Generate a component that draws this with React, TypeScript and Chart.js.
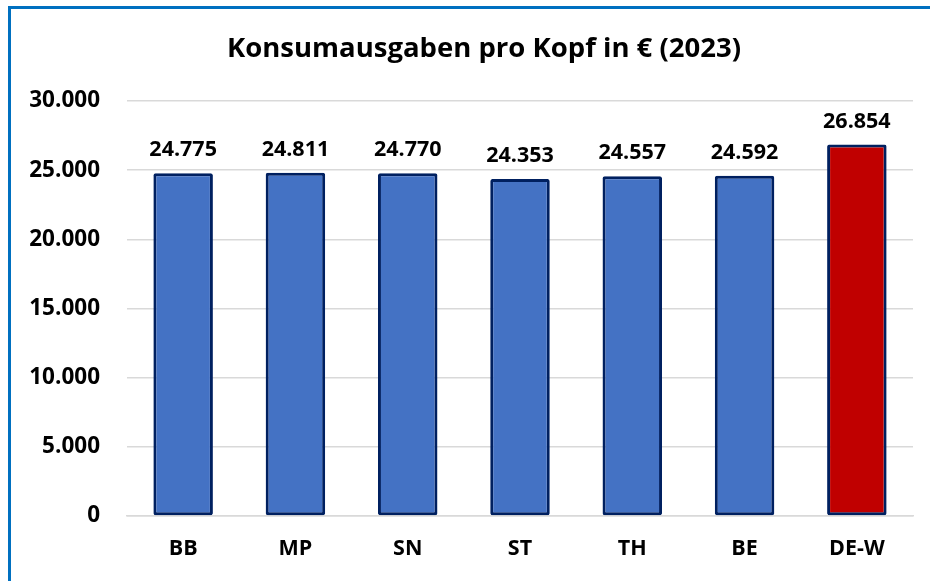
import React, { useEffect, useRef } from "react";
import { Chart, registerables } from "chart.js";

Chart.register(...registerables);

const categories = ["BB", "MP", "SN", "ST", "TH", "BE", "DE-W"];
const values = [24775, 24811, 24770, 24353, 24557, 24592, 26854];
const barColors = ["#4472C4", "#4472C4", "#4472C4", "#4472C4", "#4472C4", "#4472C4", "#C00000"];
const titleText = "Konsumausgaben pro Kopf in € (2023)";
const yMax = 30000;
const yStep = 5000;

const FONT = "'Open Sans', Lato, sans-serif";

const fmt = (v: number) => new Intl.NumberFormat("de-DE").format(v);

const dataLabelPlugin = {
  id: "dataLabels",
  afterDatasetsDraw(chart: any) {
    const ctx = chart.ctx;
    const meta = chart.getDatasetMeta(0);
    ctx.save();
    ctx.font = `bold 21.5px ${FONT}`;
    ctx.fillStyle = "#000000";
    ctx.textAlign = "center";
    ctx.textBaseline = "alphabetic";
    meta.data.forEach((bar: any, i: number) => {
      ctx.fillText(fmt(values[i]), bar.x, bar.y - 17);
    });
    ctx.restore();
  },
};

export default function App() {
  const canvasRef = useRef<HTMLCanvasElement | null>(null);

  useEffect(() => {
    if (!canvasRef.current) return;
    const chart = new Chart(canvasRef.current, {
      type: "bar",
      data: {
        labels: categories,
        datasets: [
          {
            data: values,
            backgroundColor: barColors,
            borderColor: "#002060",
            borderWidth: 3,
            borderRadius: 2,
            borderSkipped: false,
            barPercentage: 0.53,
            categoryPercentage: 1,
          },
        ],
      },
      options: {
        animation: false,
        responsive: true,
        maintainAspectRatio: false,
        layout: { padding: { top: 0, right: 0, bottom: 0, left: 0 } },
        plugins: {
          legend: { display: false },
          tooltip: { enabled: false },
          title: {
            display: true,
            text: titleText,
            color: "#000000",
            font: { family: FONT, size: 27.5, weight: "bold" },
            padding: { top: 24, bottom: 35 },
          },
        },
        scales: {
          x: {
            grid: { display: false, drawTicks: false },
            border: { display: true, color: "#D9D9D9", width: 1.5 },
            ticks: {
              color: "#000000",
              font: { family: FONT, size: 21.5, weight: "bold" },
              padding: 20,
            },
            afterFit: (scale: any) => {
              scale.height = 65;
            },
          },
          y: {
            min: 0,
            max: yMax,
            grid: { color: "#D9D9D9", lineWidth: 1.5, drawTicks: false },
            border: { display: false },
            ticks: {
              stepSize: yStep,
              color: "#000000",
              font: { family: FONT, size: 22.5, weight: "bold" },
              padding: 27,
              callback: (v: any) => fmt(Number(v)),
            },
            afterFit: (scale: any) => {
              scale.width = 116;
            },
          },
          spacer: {
            position: "right",
            display: true,
            grid: { display: false, drawTicks: false },
            border: { display: false },
            ticks: { display: false },
            afterFit: (scale: any) => {
              scale.width = 44;
            },
          },
        },
      },
      plugins: [dataLabelPlugin],
    });
    return () => chart.destroy();
  }, []);

  return (
    <div
      style={{
        position: "fixed",
        left: 0,
        top: 0,
        width: 930,
        height: 581,
        background: "#ffffff",
        overflow: "hidden",
      }}
    >
      <div
        style={{
          position: "absolute",
          left: 8,
          top: 6,
          width: 960,
          height: 600,
          borderLeft: "3px solid #0070C0",
          borderTop: "3px solid #0070C0",
        }}
      />
      <div style={{ position: "absolute", left: 11, top: 9, width: 946, height: 572 }}>
        <canvas ref={canvasRef} />
      </div>
    </div>
  );
}
